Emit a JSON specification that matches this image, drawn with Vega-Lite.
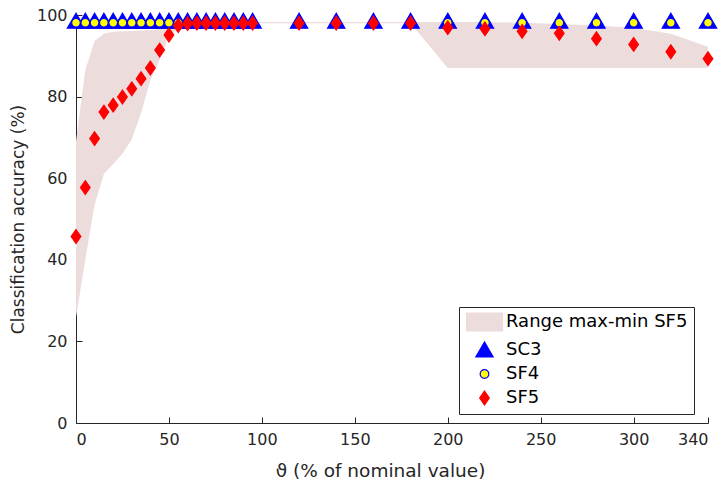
{
  "$schema": "https://vega.github.io/schema/vega-lite/v6.json",
  "width": 632,
  "height": 408,
  "autosize": {"type": "none"},
  "padding": {"left": 76, "top": 15, "right": 20, "bottom": 67},
  "background": "white",
  "config": {
    "view": {"stroke": null},
    "font": "DejaVu Sans",
    "axis": {"grid": false, "domainColor": "#262626", "tickColor": "#262626", "labelColor": "#262626", "titleColor": "#262626", "labelFont": "DejaVu Sans", "titleFont": "DejaVu Sans", "labelFontSize": 16, "titleFontSize": 17, "titleFontWeight": "normal", "tickSize": -6, "domainWidth": 1}
  },
  "datasets": {
    "band": [
      {"x": 0, "lo": 26, "hi": 69},
      {"x": 5, "lo": 40, "hi": 86.5},
      {"x": 10, "lo": 53.5, "hi": 93.6},
      {"x": 15, "lo": 61, "hi": 95.4},
      {"x": 20, "lo": 63.5, "hi": 95.9},
      {"x": 25, "lo": 66, "hi": 96},
      {"x": 30, "lo": 69.5, "hi": 96.1},
      {"x": 35, "lo": 76, "hi": 96.2},
      {"x": 40, "lo": 84, "hi": 96.3},
      {"x": 45, "lo": 89, "hi": 96.5},
      {"x": 50, "lo": 95, "hi": 96.8},
      {"x": 55, "lo": 96.5, "hi": 97.5},
      {"x": 60, "lo": 97.5, "hi": 98.2},
      {"x": 65, "lo": 98, "hi": 98.3},
      {"x": 95, "lo": 98, "hi": 98.3},
      {"x": 120, "lo": 98, "hi": 98.3},
      {"x": 140, "lo": 98, "hi": 98.3},
      {"x": 160, "lo": 98, "hi": 98.3},
      {"x": 180, "lo": 98, "hi": 98.3},
      {"x": 200, "lo": 87, "hi": 98.3},
      {"x": 220, "lo": 87, "hi": 98.3},
      {"x": 240, "lo": 87, "hi": 98.1},
      {"x": 260, "lo": 87, "hi": 97.8},
      {"x": 280, "lo": 87, "hi": 97.4},
      {"x": 300, "lo": 87, "hi": 96.9},
      {"x": 320, "lo": 87, "hi": 95.4},
      {"x": 340, "lo": 87, "hi": 92.2}
    ],
    "pts": [
      {"series": "SC3", "x": 0, "y": 98.6}, {"series": "SC3", "x": 5, "y": 98.6}, {"series": "SC3", "x": 10, "y": 98.6}, {"series": "SC3", "x": 15, "y": 98.6}, {"series": "SC3", "x": 20, "y": 98.6}, {"series": "SC3", "x": 25, "y": 98.6}, {"series": "SC3", "x": 30, "y": 98.6}, {"series": "SC3", "x": 35, "y": 98.6}, {"series": "SC3", "x": 40, "y": 98.6}, {"series": "SC3", "x": 45, "y": 98.6}, {"series": "SC3", "x": 50, "y": 98.6}, {"series": "SC3", "x": 55, "y": 98.6}, {"series": "SC3", "x": 60, "y": 98.6}, {"series": "SC3", "x": 65, "y": 98.6}, {"series": "SC3", "x": 70, "y": 98.6}, {"series": "SC3", "x": 75, "y": 98.6}, {"series": "SC3", "x": 80, "y": 98.6}, {"series": "SC3", "x": 85, "y": 98.6}, {"series": "SC3", "x": 90, "y": 98.6}, {"series": "SC3", "x": 95, "y": 98.6},
      {"series": "SC3", "x": 120, "y": 98.6}, {"series": "SC3", "x": 140, "y": 98.6}, {"series": "SC3", "x": 160, "y": 98.6}, {"series": "SC3", "x": 180, "y": 98.6}, {"series": "SC3", "x": 200, "y": 98.6}, {"series": "SC3", "x": 220, "y": 98.6}, {"series": "SC3", "x": 240, "y": 98.6}, {"series": "SC3", "x": 260, "y": 98.6}, {"series": "SC3", "x": 280, "y": 98.6}, {"series": "SC3", "x": 300, "y": 98.6}, {"series": "SC3", "x": 320, "y": 98.6}, {"series": "SC3", "x": 340, "y": 98.6},
      {"series": "SF4", "x": 0, "y": 98.1}, {"series": "SF4", "x": 5, "y": 98.1}, {"series": "SF4", "x": 10, "y": 98.1}, {"series": "SF4", "x": 15, "y": 98.1}, {"series": "SF4", "x": 20, "y": 98.1}, {"series": "SF4", "x": 25, "y": 98.1}, {"series": "SF4", "x": 30, "y": 98.1}, {"series": "SF4", "x": 35, "y": 98.1}, {"series": "SF4", "x": 40, "y": 98.1}, {"series": "SF4", "x": 45, "y": 98.1}, {"series": "SF4", "x": 50, "y": 98.1}, {"series": "SF4", "x": 55, "y": 98.1}, {"series": "SF4", "x": 60, "y": 98.1}, {"series": "SF4", "x": 65, "y": 98.1}, {"series": "SF4", "x": 70, "y": 98.1}, {"series": "SF4", "x": 75, "y": 98.1}, {"series": "SF4", "x": 80, "y": 98.1}, {"series": "SF4", "x": 85, "y": 98.1}, {"series": "SF4", "x": 90, "y": 98.1}, {"series": "SF4", "x": 95, "y": 98.1},
      {"series": "SF4", "x": 120, "y": 98.1}, {"series": "SF4", "x": 140, "y": 98.1}, {"series": "SF4", "x": 160, "y": 98.1}, {"series": "SF4", "x": 180, "y": 98.1}, {"series": "SF4", "x": 200, "y": 98.1}, {"series": "SF4", "x": 220, "y": 98.1}, {"series": "SF4", "x": 240, "y": 98.1}, {"series": "SF4", "x": 260, "y": 98.1}, {"series": "SF4", "x": 280, "y": 98.1}, {"series": "SF4", "x": 300, "y": 98.1}, {"series": "SF4", "x": 320, "y": 98.1}, {"series": "SF4", "x": 340, "y": 98.1},
      {"series": "SF5", "x": 0, "y": 45.7}, {"series": "SF5", "x": 5, "y": 57.7}, {"series": "SF5", "x": 10, "y": 69.7}, {"series": "SF5", "x": 15, "y": 76.2}, {"series": "SF5", "x": 20, "y": 77.9}, {"series": "SF5", "x": 25, "y": 79.9}, {"series": "SF5", "x": 30, "y": 81.9}, {"series": "SF5", "x": 35, "y": 84.4}, {"series": "SF5", "x": 40, "y": 87}, {"series": "SF5", "x": 45, "y": 91.4}, {"series": "SF5", "x": 50, "y": 95.1}, {"series": "SF5", "x": 55, "y": 97.4}, {"series": "SF5", "x": 60, "y": 97.9}, {"series": "SF5", "x": 65, "y": 98}, {"series": "SF5", "x": 70, "y": 98}, {"series": "SF5", "x": 75, "y": 98}, {"series": "SF5", "x": 80, "y": 98}, {"series": "SF5", "x": 85, "y": 98}, {"series": "SF5", "x": 90, "y": 98}, {"series": "SF5", "x": 95, "y": 98},
      {"series": "SF5", "x": 120, "y": 98}, {"series": "SF5", "x": 140, "y": 98}, {"series": "SF5", "x": 160, "y": 98}, {"series": "SF5", "x": 180, "y": 98}, {"series": "SF5", "x": 200, "y": 96.9}, {"series": "SF5", "x": 220, "y": 96.6}, {"series": "SF5", "x": 240, "y": 96}, {"series": "SF5", "x": 260, "y": 95.5}, {"series": "SF5", "x": 280, "y": 94.2}, {"series": "SF5", "x": 300, "y": 92.8}, {"series": "SF5", "x": 320, "y": 91}, {"series": "SF5", "x": 340, "y": 89.3}
    ]
  },
  "layer": [
    {
      "data": {"name": "band"},
      "mark": {"type": "area", "color": "#eddcdc", "opacity": 1},
      "encoding": {
        "x": {"field": "x", "type": "quantitative", "scale": {"domain": [0, 340], "nice": false, "zero": false},
          "axis": {"values": [0, 50, 100, 150, 200, 250, 300, 340], "title": "ϑ (% of nominal value)", "labelPadding": 14, "titlePadding": 14, "titleFontSize": 18.5, "titleX": 304}},
        "y": {"field": "lo", "type": "quantitative", "scale": {"domain": [0, 100], "nice": false},
          "axis": {"values": [0, 20, 40, 60, 80, 100], "title": "Classification accuracy (%)", "labelPadding": 15, "titlePadding": 9}},
        "y2": {"field": "hi"}
      }
    },
    {
      "data": {"name": "pts"},
      "mark": {"type": "point", "filled": true, "opacity": 1, "strokeWidth": 1.2},
      "encoding": {
        "x": {"field": "x", "type": "quantitative"},
        "y": {"field": "y", "type": "quantitative"},
        "shape": {"field": "series", "type": "nominal", "scale": {"domain": ["Range max-min SF5", "SC3", "SF4", "SF5"], "range": ["M-3,-1.5H3V1.5H-3Z", "triangle-up", "circle", "M0,-1L0.7,0L0,1L-0.7,0Z"]},
          "legend": {"title": null, "orient": "none", "legendX": 383, "legendY": 292, "strokeColor": "#262626", "fillColor": "white", "padding": 6, "labelFontSize": 18, "labelColor": "#000000", "labelFont": "DejaVu Sans", "labelLimit": 400, "rowPadding": 5, "labelOffset": 12, "symbolOffset": 10, "symbolStrokeWidth": 1.2}},
        "fill": {"field": "series", "type": "nominal", "scale": {"domain": ["Range max-min SF5", "SC3", "SF4", "SF5"], "range": ["#eddcdc", "#0000ff", "#ffff00", "#ff0000"]}},
        "stroke": {"field": "series", "type": "nominal", "scale": {"domain": ["Range max-min SF5", "SC3", "SF4", "SF5"], "range": ["#eddcdc", "#0000ff", "#0000ff", "#ff0000"]}},
        "size": {"field": "series", "type": "nominal", "scale": {"type": "ordinal", "domain": ["Range max-min SF5", "SC3", "SF4", "SF5"], "range": [144, 300, 75, 190]}}
      }
    }
  ]
}
